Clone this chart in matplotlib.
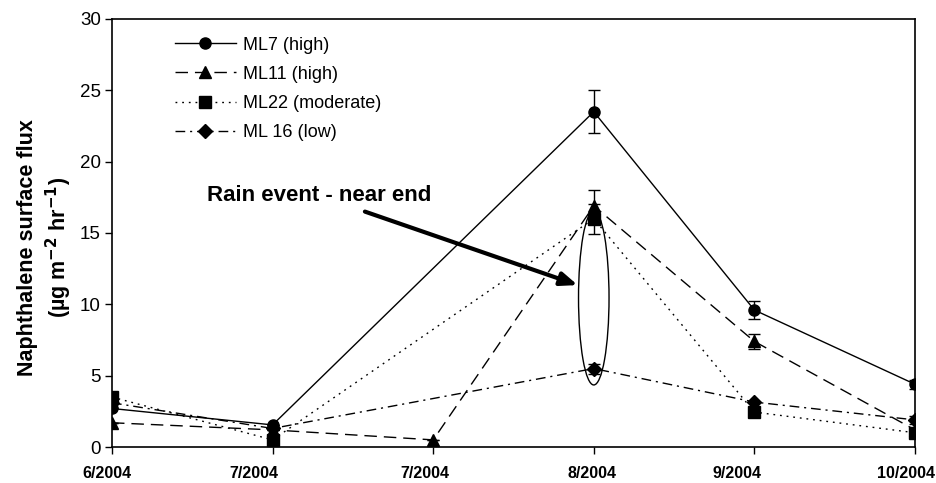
import numpy as np
import matplotlib
matplotlib.use("Agg")
import matplotlib.pyplot as plt
from matplotlib.patches import Ellipse
from matplotlib.transforms import ScaledTranslation

plt.rcParams['font.family'] = ['Liberation Sans', 'DejaVu Sans']

# sampling dates (the second 7/2004 is a repeat visit)
dates = ["6/2004", "7/2004", "7/2004", "8/2004", "9/2004", "10/2004"]

ml7 = [2.7, 1.55, None, 23.5, 9.6, 4.4]
ml7_err = [0, 0, 0, 1.5, 0.65, 0.3]
ml11 = [1.7, 1.2, 0.5, 16.9, 7.4, 1.2]
ml11_err = [0, 0, 0, 1.1, 0.5, 0]
ml22 = [3.5, 0.5, None, 16.0, 2.45, 1.0]
ml22_err = [0, 0, 0, 1.05, 0, 0]
ml16 = [3.1, 1.3, None, 5.5, 3.15, 1.9]
ml16_err = [0, 0, 0, 0.35, 0, 0.3]

series = [
    ("ML7 (high)", ml7, ml7_err, "o", "-"),
    ("ML11 (high)", ml11, ml11_err, "^", (0, (9, 5))),
    ("ML22 (moderate)", ml22, ml22_err, "s", (0, (1.3, 3.5))),
    ("ML 16 (low)", ml16, ml16_err, "D", (0, (7, 3.5, 1.5, 3.5))),
]

fig = plt.figure(figsize=(9.37, 4.83), dpi=100)
ax = fig.add_axes([0.1195, 0.0745, 0.857, 0.8862])

for label, vals, errs, mk, ls in series:
    xs = [i for i, v in enumerate(vals) if v is not None]
    ys = [vals[i] for i in xs]
    es = [errs[i] for i in xs]
    msize = 8 if mk != "D" else 7
    ax.errorbar(xs, ys, yerr=es, color="black", marker=mk, markersize=msize,
                linestyle=ls, linewidth=1.0, elinewidth=1.0, capsize=4.5,
                capthick=1.0, label=label)

# rain event callout around the 8/2004 samples
ax.add_patch(Ellipse((3, 10.45), 0.19, 12.2, fill=False, edgecolor="black", linewidth=1.0, zorder=5))
ax.annotate("", xy=(2.9, 11.35), xytext=(1.575, 16.5),
            arrowprops=dict(arrowstyle="-|>,head_length=1.0,head_width=0.4",
                            color="black", linewidth=3.0, shrinkA=0, shrinkB=0))
ax.text(1.29, 17.65, "Rain event - near end", fontsize=16, fontweight="bold",
        ha="center", va="center")

ax.set_xlim(0, 5)
ax.set_ylim(0, 30)
ax.set_xticks(range(len(dates)))
ax.set_xticklabels(dates, fontsize=11.5, fontweight="bold")
ax.set_yticks(np.arange(0, 31, 5))
ax.tick_params(axis="y", labelsize=13.5, direction="out", length=5, width=1, pad=3)
ax.tick_params(axis="x", direction="out", length=5, width=1, pad=9)
# date labels sit a little left of their ticks
shifts = [-5.5, -19, -8, -2, -17.5, -8.5]
for lab, dx in zip(ax.get_xticklabels(), shifts):
    lab.set_transform(lab.get_transform() + ScaledTranslation(dx / 100, 0, fig.dpi_scale_trans))
ax.set_ylabel("Naphthalene surface flux\n(\u00b5g m$^{\\mathbf{-2}}$ hr$^{\\mathbf{-1}}$)",
              fontsize=15.5, fontweight="bold", linespacing=1.25)
ax.yaxis.set_label_coords(-0.047, 0.465)
for sp in ax.spines.values():
    sp.set_linewidth(1.2)

handles, labels = ax.get_legend_handles_labels()
handles = [h[0] for h in handles]
ax.legend(handles, labels, loc="upper left", bbox_to_anchor=(0.058, 0.997), frameon=False,
          fontsize=13, handlelength=3.4, numpoints=1, labelspacing=0.68, handletextpad=0.35)

fig.savefig("out.png", dpi=100)
